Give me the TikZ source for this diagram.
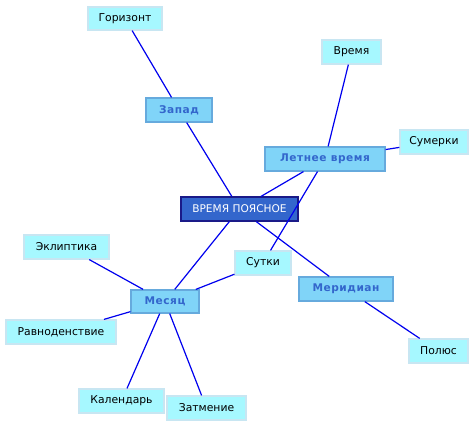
\documentclass[tikz,border=0pt]{standalone}
\usepackage{fontspec}
\setmainfont{DejaVu Sans}
\newfontfamily\boldsp[LetterSpace=5]{DejaVu Sans Bold}
\definecolor{cfill}{HTML}{3366CC}
\definecolor{cdraw}{HTML}{1A1A88}
\definecolor{lfill}{HTML}{80D4F8}
\definecolor{ldraw}{HTML}{66AADD}
\definecolor{ltext}{HTML}{3366CC}
\definecolor{sfill}{HTML}{A6F8FF}
\definecolor{sdraw}{HTML}{C8E6F2}
\definecolor{edge}{HTML}{0000EE}
\begin{document}
\begin{tikzpicture}[x=1pt,y=-1pt,
  box/.style={rectangle,inner sep=0pt,line width=1.2pt},
  central/.style={box,fill=cfill,draw=cdraw,text=white,font=\fontsize{10.6}{12}\selectfont},
  main/.style={box,fill=lfill,draw=ldraw,text=ltext,font=\fontsize{10.6}{12}\selectfont\boldsp},
  leaf/.style={box,fill=sfill,draw=sdraw,text=black,font=\fontsize{10.8}{12}\selectfont},
  link/.style={draw=edge,line width=1.2pt}]
\useasboundingbox (0,0) rectangle (476,427);
\node[central,minimum width=117pt,minimum height=24pt] (c) at (239.5,209) {ВРЕМЯ ПОЯСНОЕ};
\node[main,minimum width=66pt,minimum height=24pt] (zap) at (179,110) {Запад};
\node[main,minimum width=120pt,minimum height=24pt] (let) at (325,159) {Летнее время};
\node[main,minimum width=68pt,minimum height=23pt] (mes) at (165,301.5) {Месяц};
\node[main,minimum width=94pt,minimum height=24pt] (mer) at (346,289) {Меридиан};
\node[leaf,minimum width=74pt,minimum height=23pt] (gor) at (125,18.5) {Горизонт};
\node[leaf,minimum width=59pt,minimum height=24pt] (vr) at (351.5,52) {Время};
\node[leaf,minimum width=68pt,minimum height=24pt] (sum) at (434,142) {Сумерки};
\node[leaf,minimum width=85pt,minimum height=24pt] (ekl) at (66.5,247) {Эклиптика};
\node[leaf,minimum width=56pt,minimum height=24pt] (sut) at (263,263) {Сутки};
\node[leaf,minimum width=110pt,minimum height=24pt] (rav) at (61,332) {Равноденствие};
\node[leaf,minimum width=85pt,minimum height=24pt] (kal) at (121.5,401) {Календарь};
\node[leaf,minimum width=79pt,minimum height=24pt] (zat) at (206.5,408) {Затмение};
\node[leaf,minimum width=59pt,minimum height=24pt] (pol) at (438.5,351) {Полюс};
\draw[link] (gor) -- (zap);
\draw[link] (zap) -- (c);
\draw[link] (vr) -- (let);
\draw[link] (sum) -- (let);
\draw[link] (let) -- (c);
\draw[link] (sut) -- (let);
\draw[link] (c) -- (mer);
\draw[link] (mer) -- (pol);
\draw[link] (c) -- (mes);
\draw[link] (ekl) -- (mes);
\draw[link] (sut) -- (mes);
\draw[link] (rav) -- (mes);
\draw[link] (kal) -- (mes);
\draw[link] (zat) -- (mes);
\end{tikzpicture}
\end{document}
